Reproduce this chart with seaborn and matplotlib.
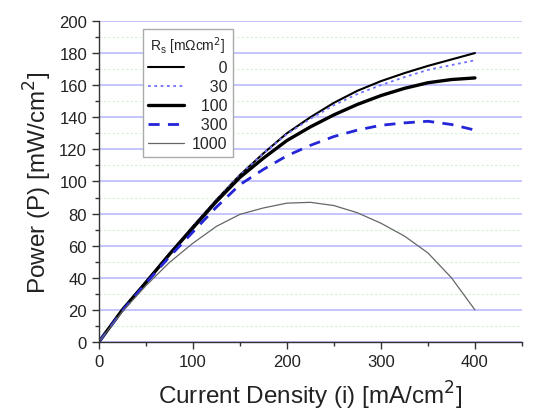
import numpy as np
import pandas as pd
import matplotlib
matplotlib.use("Agg")
import matplotlib.pyplot as plt
import seaborn as sns
from matplotlib.ticker import MultipleLocator

current = [0, 25, 50, 75, 100, 125, 150, 175, 200, 225, 250, 275, 300, 325, 350, 375, 400]
p_0 = [0, 20, 37.5, 55, 72, 88.5, 104, 117.5, 130, 140, 149, 156.5, 162.5, 167.5, 172, 176, 180]
p_30 = [0, 20, 37.5, 55, 72, 88.5, 104, 117.5, 129.5, 139, 147.5, 154.5, 160, 165, 169.5, 172.5, 175.5]
p_100 = [0, 20, 37, 54.5, 71, 87.5, 102.5, 114.5, 125.5, 134, 141.5, 148, 153.5, 158, 161.5, 163.5, 164.5]
p_300 = [0, 19.5, 36.5, 53, 68.5, 84, 98, 107.5, 116, 122.5, 128, 132, 135, 136.5, 137.5, 135.5, 132]
p_1000 = [0, 19, 35, 49.5, 61.5, 72, 79.5, 83.5, 86.5, 87, 85, 80.5, 74, 66, 55.5, 40, 20]
rs_labels = ["0", "30", "100", "300", "1000"]

rows = []
for lab, vals in zip(rs_labels, [p_0, p_30, p_100, p_300, p_1000]):
    for x, y in zip(current, vals):
        rows.append({"i": x, "P": y, "Rs": lab})
df = pd.DataFrame(rows)

sns.set_style("ticks")
plt.rcParams['font.family'] = ['Liberation Sans', 'DejaVu Sans']

fig = plt.figure(figsize=(5.37, 4.14), dpi=100)
ax = fig.add_axes([0.184, 0.1715, 0.788, 0.7755])

styles = {
    "0": dict(color="black", lw=1.5, ls="-"),
    "30": dict(color="#7070ff", lw=1.3, ls=(0, (1.5, 2))),
    "100": dict(color="black", lw=2.4, ls="-"),
    "300": dict(color="#2424d8", lw=2.0, ls=(0, (4, 3))),
    "1000": dict(color="#666666", lw=0.9, ls="-"),
}

ax.yaxis.set_major_locator(MultipleLocator(20))
ax.yaxis.set_minor_locator(MultipleLocator(10))
ax.xaxis.set_major_locator(MultipleLocator(100))
ax.xaxis.set_minor_locator(MultipleLocator(50))
ax.grid(False)
ax.yaxis.grid(True, which="major", color="#c4c4ff", lw=1.4)
ax.yaxis.grid(True, which="minor", color="#d2f2d2", lw=0.8, ls=(0, (2, 2)))
ax.set_axisbelow(True)

maxlen = max(len(l) for l in rs_labels)
for lab in rs_labels:
    sub = df[df.Rs == lab]
    st = styles[lab]
    shown = "\u2007" * (maxlen - len(lab)) + lab
    sns.lineplot(data=sub, x="i", y="P", ax=ax, color=st["color"], lw=st["lw"],
                 linestyle=st["ls"], label=shown, sort=False, estimator=None)

ax.set_xlim(0, 450)
ax.set_ylim(0, 200)
for s in ["top", "right"]:
    ax.spines[s].set_visible(False)
for s in ["left", "bottom"]:
    ax.spines[s].set_color("#333333")
    ax.spines[s].set_linewidth(1.0)

ax.tick_params(which="major", direction="out", length=5, width=1, colors="#333333",
               labelsize=12, labelcolor="#222222")
ax.tick_params(which="minor", direction="out", length=3, width=1, colors="#333333")
ax.set_xticks([0, 100, 200, 300, 400])

ax.set_xlabel("Current Density (i) [mA/cm$^2$]", fontsize=17.5, color="#222222", labelpad=7)
ax.set_ylabel("Power (P) [mW/cm$^2$]", fontsize=17.5, color="#222222", labelpad=4)

leg = ax.legend(title="$\\mathregular{R_s}$ [m\u03a9cm$^2$]", loc="upper left",
                bbox_to_anchor=(0.104, 0.975),
                fontsize=11.5, title_fontsize=10, frameon=True, fancybox=False,
                handlelength=2.2, handletextpad=0.5, labelspacing=0.25,
                borderpad=0.35, borderaxespad=0)
leg.get_frame().set_edgecolor("#aaaaaa")
leg.get_frame().set_linewidth(1.0)
leg.get_frame().set_alpha(1)

fig.savefig("out.png", dpi=100)
